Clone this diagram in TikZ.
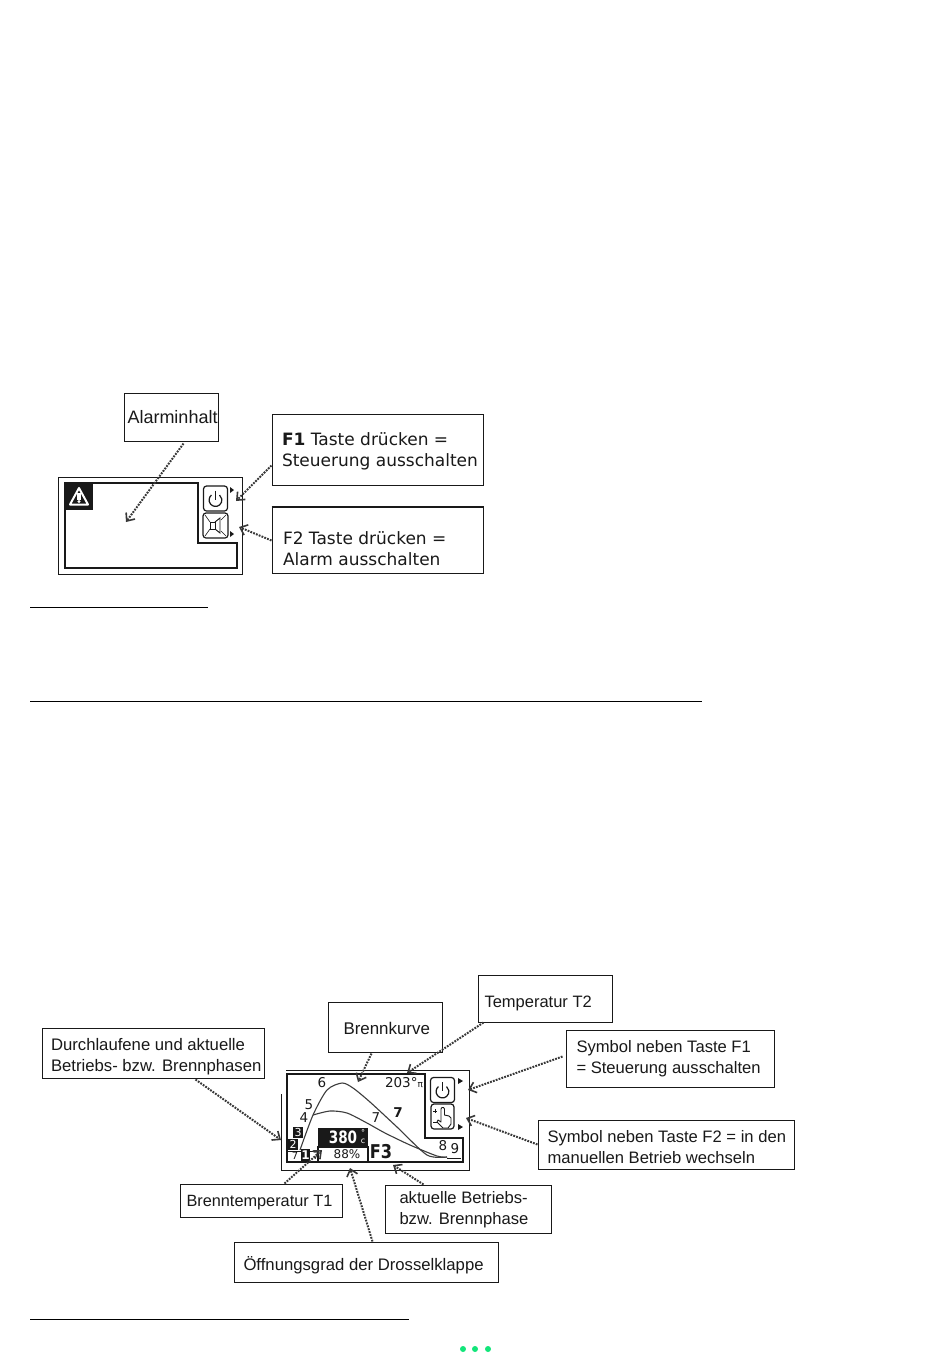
\documentclass[tikz,border=0pt]{standalone}
\usepackage{fontspec}
\setmainfont{Liberation Sans}
\newfontfamily\dejafont{DejaVu Sans}
\usetikzlibrary{arrows.meta,calc}
\definecolor{ink}{gray}{0.10}
\definecolor{arrowink}{gray}{0.22}
\definecolor{dotgreen}{HTML}{12E57A}
\tikzset{
  arr/.style={draw=arrowink,line width=2pt,dash pattern=on 1.8pt off 1.2pt,-{Straight Barb[length=6.5pt,width=11pt,line width=1.6pt]}},
  frameline/.style={draw=ink,line width=1pt},
  displine/.style={draw=ink,line width=2.2pt,line join=miter},
  iconbox/.style={draw=ink,line width=1.2pt,rounded corners=3pt},
  iconline/.style={draw=ink,line width=.9pt},
  tri/.style={fill=ink,draw=none},
  rule/.style={draw=black,line width=.9pt},
  curve/.style={draw=ink!85,line width=1.1pt},
  lcd/.style={inner sep=0pt,text=ink,font=\dejafont\fontsize{13.5}{13.5}\selectfont},
  lcdw/.style={lcd,text=white},
  blk/.style={fill=ink,draw=none},
}
% name, x1,y1,x2,y2, left pad, font size, text drop, text
\newcommand{\bx}[9]{%
  \pgfmathsetmacro{\bxw}{#4-#2}\pgfmathsetmacro{\bxh}{#5-#3}%
  \pgfmathsetmacro{\bxcx}{(#2+#4)/2}\pgfmathsetmacro{\bxcy}{(#3+#5)/2}%
  \pgfmathsetmacro{\bxtw}{\bxw-#6-1}\pgfmathsetmacro{\bxls}{#7*1.25}%
  \pgfmathsetmacro{\bxdrop}{-2.5-#8}%
  \node[draw=ink,line width=1pt,inner ysep=0pt,inner xsep=0pt,minimum width=\bxw pt,minimum height=\bxh pt,text=ink] (#1) at (\bxcx,\bxcy)
   {\hspace*{#6pt}\raisebox{\bxdrop pt}[0pt][0pt]{\parbox{\bxtw pt}{\raggedright\fontsize{#7}{\bxls}\selectfont #9}}};}
\newcommand{\powericon}[2]{%
  \begin{scope}[shift={(#1,#2)}]
    \draw[iconbox] (-12,-12.5) rectangle (12,12.5);
    \draw[iconline,line width=1.2pt] (-4.03,-3.47) arc[start angle=-129,delta angle=-282,radius=6.4];
    \draw[iconline,line width=1.2pt] (0,-8) -- (0,1);
  \end{scope}}
\begin{document}
\begin{tikzpicture}[x=1pt,y=-1pt]
\useasboundingbox (0,0) rectangle (950,1369);
\fill[white] (0,0) rectangle (950,1369);

% ---------- upper diagram ----------
\draw[frameline] (58,477) rectangle (242,574);
\draw[displine] (65,483) -- (198,483) -- (198,543) -- (237,543) -- (237,568) -- (65,568) -- cycle;
\fill[blk] (65,483) rectangle (93,510);
\draw[white,line width=2pt,line join=round] (79,488) -- (70,504.5) -- (88,504.5) -- cycle;
\fill[white] (77.3,492.5) rectangle (80.7,500);
\fill[white] (79,501.5) circle (1.6);
\powericon{215.5}{498.5}
\draw[iconbox] (203,513) rectangle (228,538);
\draw[iconline] (210,522) rectangle (215,529);
\draw[iconline] (215,522) -- (220,518) -- (220,533) -- (215,529);
\draw[iconline,line width=.6pt] (205,515) -- (210,522) (205,536) -- (210,529) (226,515) -- (221,520) (226,536) -- (221,531);
\fill[tri] (230,487) -- (234,490) -- (230,493) -- cycle;
\fill[tri] (230,531) -- (234,534) -- (230,537) -- cycle;

\bx{alarm}{124}{393}{218}{441}{3}{18}{0}{Alarminhalt}
\bx{fone}{272}{414}{483}{485}{9.5}{17}{2}{\dejafont {\bfseries F1} Taste drücken =\\Steuerung ausschalten}
\bx{ftwo}{272}{507}{483}{573}{10.5}{17}{9}{\dejafont F2 Taste drücken =\\Alarm ausschalten}
\draw[draw=ink,line width=1.8pt] (ftwo.north west) -- (ftwo.north east);

\coordinate (alarmEnd) at (126,522);
\coordinate (foneEnd) at (236,501);
\coordinate (ftwoEnd) at (239,527);
\draw[arr] ($(alarm.south west)+(60,2)$) -- (alarmEnd);
\draw[arr] ($(fone.south west)+(0,-20)$) -- (foneEnd);
\draw[arr] ($(ftwo.north west)+(0,34)$) -- (ftwoEnd);

\draw[rule] (30,607) -- (208,607);
\draw[rule] (30,701) -- (702,701);

% ---------- lower diagram ----------
\draw[frameline] (286,1070) -- (469,1070) -- (469,1170) -- (281,1170) -- (281,1094);
\draw[displine] (287,1074) -- (425,1074) -- (425,1138) -- (463,1138) -- (463,1162) -- (287,1162) -- cycle;
\draw[curve] plot[smooth,tension=.45] coordinates {(300,1150) (313,1115) (327,1090) (342,1083) (353,1088) (370,1102) (397,1127) (427,1155) (447,1157)};
\draw[curve] plot[smooth,tension=.45] coordinates {(313,1115) (330,1111) (347,1113) (367,1123) (385,1133) (410,1145) (437,1156) (447,1157)};
\draw[iconline] (447,1158) -- (461,1158);
\draw[iconline] (287,1151) -- (301,1151) (310,1151) -- (318,1151);

\fill[blk] (293,1127) rectangle (303,1138);
\node[lcdw] (nthree) at (298,1132.5) {\fontsize{11}{11}\selectfont 3};
\fill[blk] (288,1139) rectangle (298,1150);
\node[lcdw] (ntwo) at (293,1144.5) {\fontsize{11}{11}\selectfont 2};
\fill[blk] (301,1149) rectangle (310,1162);
\node[lcdw] (none) at (305.5,1155.5) {\fontsize{12}{12}\bfseries\selectfont 1};
\node[lcd] (sa) at (295,1155.5) {\fontsize{10}{10}\selectfont 7};
\node[lcd] (sb) at (316,1155.5) {\fontsize{10}{10}\selectfont 7};
\fill[blk] (318,1128) rectangle (368,1147);
\draw[draw=ink,line width=1.5pt] (318,1147) rectangle (368,1162);
\node[lcdw] (tval) at (343,1137.5) {\fontsize{17}{17}\bfseries\selectfont\scalebox{.8}[1]{380}};
\node[lcdw] (tdeg) at (363,1133) {\fontsize{8}{8}\selectfont °};
\node[lcdw] (tunit) at (363,1141.5) {\fontsize{8}{8}\selectfont c};
\node[lcd] (pval) at (347,1154.5) {\fontsize{12}{12}\selectfont 88\%};
\node[lcd] (fthree) at (381,1152) {\fontsize{19}{19}\bfseries\selectfont\scalebox{.85}[1]{F3}};
\node[lcd] (l6) at (322,1083) {6};
\node[lcd] (l5) at (309,1105) {5};
\node[lcd] (l4) at (304,1118) {4};
\node[lcd] (l7a) at (376,1118) {7};
\node[lcd] (l7b) at (398,1113) {\bfseries 7};
\node[lcd] (l8) at (443,1146) {8};
\node[lcd] (l9) at (455,1149) {9};
\node[lcd] (ttwo) at (404,1083) {203°\fontsize{9}{9}\selectfont π};

\powericon{442.5}{1090}
\draw[iconbox] (431,1104) rectangle (454,1129);
\draw[iconline] (433,1111) -- (437,1111) (435,1109) -- (435,1113) (433,1122) -- (437,1122);
\draw[iconline,line join=round,fill=white] (441,1122) -- (441,1109) -- (442,1107.5) -- (443.5,1107.5) -- (444.5,1109) -- (444.5,1115) -- (449,1116) -- (451,1118) -- (451,1124) -- (448,1128) -- (443,1128) -- (437,1122) -- (438,1120) -- cycle;
\fill[tri] (458,1078) -- (463,1081) -- (458,1084) -- cycle;
\fill[tri] (458,1124) -- (463,1127) -- (458,1130) -- cycle;

\bx{phasen}{42}{1028}{264}{1078}{8.5}{16.7}{4}{Durchlaufene und aktuelle\\Betriebs- bzw. Brennphasen}
\bx{kurve}{328}{1002}{442}{1052}{15}{16.9}{1}{Brennkurve}
\bx{ttwobox}{478}{975}{612}{1022}{6}{16.5}{5}{Temperatur T2}
\bx{sone}{566}{1030}{774}{1087}{10}{16.6}{0}{Symbol neben Taste F1\\= Steuerung ausschalten}
\bx{stwo}{538}{1120}{794}{1169}{9}{16.6}{2.5}{Symbol neben Taste F2 = in den\\manuellen Betrieb wechseln}
\bx{tone}{180}{1184}{342}{1217}{6}{16.3}{2}{Brenntemperatur T1}
\bx{phase}{385}{1185}{551}{1233}{14}{16.6}{1}{aktuelle Betriebs-\\bzw. Brennphase}
\bx{klappe}{234}{1242}{498}{1282}{9}{16.7}{3}{Öffnungsgrad der Drosselklappe}

\coordinate (phasenEnd) at (281,1140);
\coordinate (kurveEnd) at (358,1082);
\coordinate (ttwoEnd) at (407,1073);
\coordinate (soneEnd) at (468,1090);
\coordinate (stwoEnd) at (466,1118);
\coordinate (toneEnd) at (322,1150);
\coordinate (phaseEnd) at (393,1165);
\coordinate (klappeEnd) at (350,1168);
\draw[arr] ($(phasen.south west)+(154,1)$) -- (phasenEnd);
\draw[arr] ($(kurve.south west)+(44,1)$) -- (kurveEnd);
\draw[arr] ($(ttwobox.south west)+(6,0)$) -- (ttwoEnd);
\draw[arr] ($(sone.north west)+(-3,27)$) -- (soneEnd);
\draw[arr] ($(stwo.north west)+(0,25)$) -- (stwoEnd);
\draw[arr] ($(tone.north west)+(105,0)$) -- (toneEnd);
\draw[arr] ($(phase.north west)+(39,0)$) -- (phaseEnd);
\draw[arr] ($(klappe.north west)+(139,0)$) -- (klappeEnd);

\draw[rule] (30,1319) -- (409,1319);
\foreach \dx in {463,475,488}{\fill[dotgreen] (\dx,1349) circle (3);}
\end{tikzpicture}
\end{document}
